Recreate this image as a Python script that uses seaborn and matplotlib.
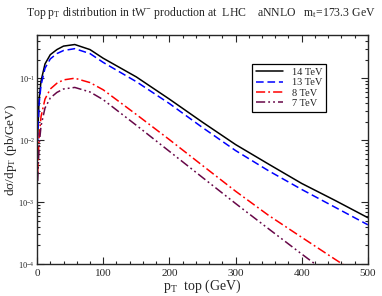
import matplotlib
matplotlib.use("Agg")
import matplotlib.pyplot as plt
from matplotlib.ticker import MultipleLocator, LogLocator, NullFormatter
import seaborn as sns
import pandas as pd

# top pT distribution
pt = [1, 3, 6, 12, 20, 30, 40, 57, 80, 100, 150, 200, 250, 300, 350, 400, 450, 500]
xs_14 = [0.012, 0.045, 0.09, 0.17, 0.24, 0.29, 0.33, 0.35, 0.29, 0.21, 0.105,
         0.046, 0.0195, 0.0085, 0.0041, 0.002, 0.00107, 0.00056]
xs_13 = [0.010, 0.038, 0.077, 0.145, 0.205, 0.25, 0.28, 0.30, 0.25, 0.18, 0.088,
         0.039, 0.016, 0.0068, 0.0032, 0.0016, 0.00083, 0.00043]
xs_8 = [0.0030, 0.011, 0.024, 0.046, 0.067, 0.083, 0.094, 0.10, 0.085, 0.065, 0.026,
        0.0102, 0.0039, 0.0015, 0.00061, 0.00027, 0.00012, 0.000054]
xs_7 = [0.0022, 0.008, 0.017, 0.033, 0.048, 0.059, 0.067, 0.071, 0.060, 0.045, 0.0174,
        0.0066, 0.0025, 0.00095, 0.00037, 0.000145, 0.000058, 0.000022]

series = [
    ("14 TeV", xs_14, "black", "-"),
    ("13 TeV", xs_13, "#0000ff", (0, (5, 2.5))),
    ("8 TeV", xs_8, "#ff0000", (0, (6, 2, 1.2, 2))),
    ("7 TeV", xs_7, "#670748", (0, (6, 2, 1.2, 2, 1.2, 2))),
]

sns.set_style("ticks")
plt.rcParams["font.family"] = ["Liberation Serif", "DejaVu Serif"]
plt.rcParams["mathtext.fontset"] = "custom"
plt.rcParams["mathtext.rm"] = "Liberation Serif"
plt.rcParams["mathtext.it"] = "Liberation Serif"

fig = plt.figure(figsize=(3.82, 2.96), dpi=100)
ax = fig.add_axes([0.097, 0.108, 0.866, 0.774])

for name, vals, color, ls in series:
    df = pd.DataFrame({"pt": pt, "xs": vals})
    sns.lineplot(data=df, x="pt", y="xs", ax=ax, color=color, linestyle=ls,
                 linewidth=1.1, label=name)

ax.set_yscale("log")
ax.set_xlim(0, 500)
ax.set_ylim(1e-4, 0.5)

ax.xaxis.set_major_locator(MultipleLocator(100))
ax.xaxis.set_minor_locator(MultipleLocator(20))
ax.yaxis.set_major_locator(LogLocator(base=10))
ax.yaxis.set_minor_locator(LogLocator(base=10, subs=range(2, 10)))
ax.yaxis.set_minor_formatter(NullFormatter())
ax.tick_params(which="both", direction="in", top=True, right=True, width=0.8)
ax.tick_params(which="major", length=5, labelsize=8)
ax.tick_params(which="minor", length=2.5)
ax.tick_params(axis="y", labelsize=6, pad=1.5)
for s in ax.spines.values():
    s.set_linewidth(1.0)

ax.set_xlabel("p$_\\mathrm{T}$  top (GeV)", fontsize=10, labelpad=0)
ax.set_ylabel("d\u03c3/dp$_\\mathrm{T}$ (pb/GeV)", fontsize=9.5)
ax.yaxis.set_label_coords(-0.056, 0.5)
fig.text(0.525, 0.955,
         "Top p$_\\mathrm{T}$ distribution in tW$^{-}$ production at  LHC    aNNLO   m$_\\mathrm{t}$=173.3 GeV",
         ha="center", va="center", fontsize=8.5)

leg = ax.legend(loc="upper left", bbox_to_anchor=(0.65, 0.875), fontsize=7.5,
                frameon=True, fancybox=False, handlelength=2.6, labelspacing=0.1,
                borderpad=0.4, handletextpad=0.8, borderaxespad=0)
leg.get_frame().set_edgecolor("black")
leg.get_frame().set_linewidth(0.9)
leg.get_frame().set_alpha(1)

fig.savefig("out.png", dpi=100)
